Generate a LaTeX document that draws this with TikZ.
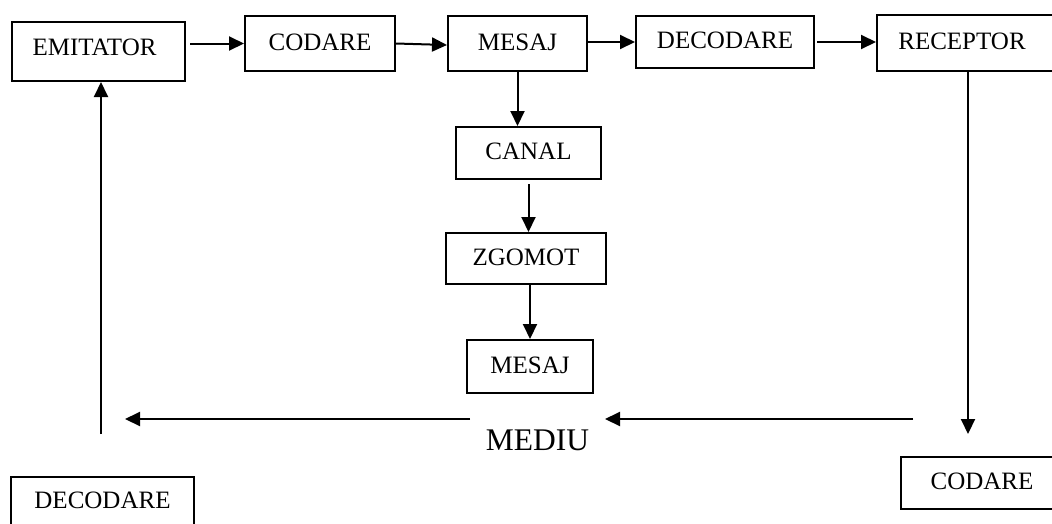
\documentclass[tikz,border=0pt]{standalone}
\usepackage{fontspec}
\setmainfont{Liberation Serif}
\usetikzlibrary{arrows.meta,calc}
\begin{document}
\begin{tikzpicture}[x=1pt,y=-1pt,
  boxnode/.style={draw,line width=2pt,inner sep=0pt,font=\fontsize{25}{29}\selectfont,text depth=3pt},
  arr/.style={line width=2pt,-{Triangle[length=15pt,width=14pt]}}]
\useasboundingbox (0,0) rectangle (1052,523);
\clip (0,0) rectangle (1052,523);
% top row
\node[boxnode,minimum width=173pt,minimum height=59pt,text depth=9pt] (emit) at (98.5,51.5) {\hspace*{-8pt}EMITATOR};
\node[boxnode,minimum width=150pt,minimum height=55pt] (cod1) at (320,43.5) {CODARE};
\node[boxnode,minimum width=139pt,minimum height=55pt] (mes1) at (517.5,43.5) {MESAJ};
\node[boxnode,minimum width=178pt,minimum height=52pt] (dec1) at (725,42) {DECODARE};
\node[boxnode,minimum width=178pt,minimum height=56pt] (rec) at (966,43) {\hspace*{-8pt}RECEPTOR};
% middle column
\node[boxnode,minimum width=145pt,minimum height=52pt] (canal) at (528.5,153) {CANAL};
\node[boxnode,minimum width=160pt,minimum height=51pt] (zgom) at (526,258.5) {ZGOMOT};
\node[boxnode,minimum width=126pt,minimum height=53pt] (mes2) at (530,366.5) {MESAJ};
% bottom
\node[boxnode,minimum width=183pt,minimum height=50pt] (dec2) at (102.5,502) {DECODARE};
\node[boxnode,minimum width=162pt,minimum height=52pt] (cod2) at (982,483) {CODARE};
\node[font=\fontsize{31.5}{36}\selectfont,inner sep=0pt] (mediu) at (537.5,440) {MEDIU};
% free ends
\coordinate (rtip) at (968,434);
\coordinate (rstart) at (913,419);
\coordinate (mr) at (605,419);
\coordinate (ml) at (470,419);
\coordinate (ltip) at (125,419);
\coordinate (lbot) at (101,434);
% top row arrows
\draw[arr] ([xshift=4pt]emit.east |- cod1.west) -- (cod1.west);
\draw[arr] (cod1.east) -- ([yshift=-1.5pt]mes1.west);
\draw[arr] (mes1.east |- dec1.west) -- (dec1.west);
\draw[arr] ([xshift=2pt]dec1.east) -- (dec1.east -| rec.west);
% vertical chain
\draw[arr] (mes1.south) -- (mes1.south |- canal.north);
\draw[arr] ([yshift=-4pt]canal.south) -- (canal.south |- zgom.north);
\draw[arr] (mes2.north |- zgom.south) -- (mes2.north);
% feedback loop
\draw[arr] (rec.south -| rtip) -- (rtip);
\draw[arr] (rstart) -- (mr);
\draw[arr] (ml) -- (ltip);
\draw[arr] (lbot) -- (emit.south -| lbot);
\end{tikzpicture}
\end{document}
